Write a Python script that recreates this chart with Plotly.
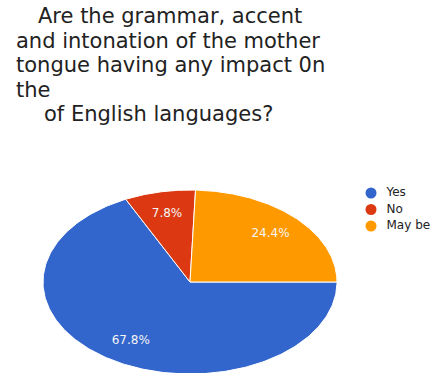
import numpy as np
import plotly.graph_objects as go

# Data
labels = ["Yes", "No", "May be"]
values = [67.8, 7.8, 24.4]
colors = ["#3366cc", "#dc3912", "#ff9900"]
title_lines = [
    "Are the grammar, accent",
    "and intonation of the mother",
    "tongue having any impact 0n",
    "the",
    "of English languages?",
]

W, H = 443, 373
# ellipse geometry in pixels (layout)
cx, cy, rx, ry = 190, 282, 147, 92
start_deg = 90  # first slice starts at 3 o'clock, clockwise

fig = go.Figure()

total = sum(values)
ang = start_deg
for lab, val, col in zip(labels, values, colors):
    span = val / total * 360
    th = np.radians(np.linspace(ang, ang + span, 240))
    xs = np.concatenate([[0], np.sin(th), [0]])
    ys = np.concatenate([[0], np.cos(th), [0]])
    fig.add_trace(go.Scatter(x=xs, y=ys, mode="lines", fill="toself",
                             fillcolor=col, line=dict(color="white", width=1),
                             hoverinfo="skip", showlegend=False))
    mid = np.radians(ang + span / 2)
    r = 0.76
    fig.add_trace(go.Scatter(x=[r * np.sin(mid)], y=[r * np.cos(mid)], mode="text",
                             text=[f"{val:.1f}%"],
                             textfont=dict(family="DejaVu Sans", size=12, color="#f5f5f5"),
                             hoverinfo="skip", showlegend=False))
    ang += span

# legend (manual, on a pixel-space overlay axis)
leg_x, leg_y0, leg_dy = 371, 193, 16.5
leg_ys = [leg_y0 + i * leg_dy for i in range(len(labels))]
fig.add_trace(go.Scatter(x=[leg_x] * len(labels), y=leg_ys, mode="markers+text",
                         marker=dict(color=colors, size=11, symbol="circle"),
                         text=["  " + l for l in labels], textposition="middle right",
                         textfont=dict(family="DejaVu Sans", size=12, color="#222222"),
                         xaxis="x2", yaxis="y2", hoverinfo="skip", showlegend=False))

x0, x1 = (cx - rx) / W, (cx + rx) / W
top_px = cy - ry
ytop_paper = (H - top_px) / H
y_bottom_val = 1 - (H - top_px) / ry

fig.update_layout(
    xaxis=dict(domain=[x0, x1], range=[-1, 1], visible=False, fixedrange=True),
    yaxis=dict(domain=[0, ytop_paper], range=[y_bottom_val, 1], visible=False, fixedrange=True),
    xaxis2=dict(domain=[0, 1], range=[0, W], visible=False, fixedrange=True, anchor="y2"),
    yaxis2=dict(domain=[0, 1], range=[H, 0], visible=False, fixedrange=True, anchor="x2"),
)

line_y = [16, 41, 65, 90, 114]
line_x = [36, 14, 14, 14, 42]
for t, yy, xx in zip(title_lines, line_y, line_x):
    fig.add_annotation(text=t, xref="paper", yref="paper", x=xx / W, y=(H - yy) / H,
                       xanchor="left", yanchor="middle", showarrow=False,
                       font=dict(family="DejaVu Sans", size=21, color="#222222"))

fig.update_layout(
    width=W, height=H, margin=dict(l=0, r=0, t=0, b=0),
    paper_bgcolor="white", plot_bgcolor="rgba(0,0,0,0)", showlegend=False,
)

fig.write_html("out.html")
